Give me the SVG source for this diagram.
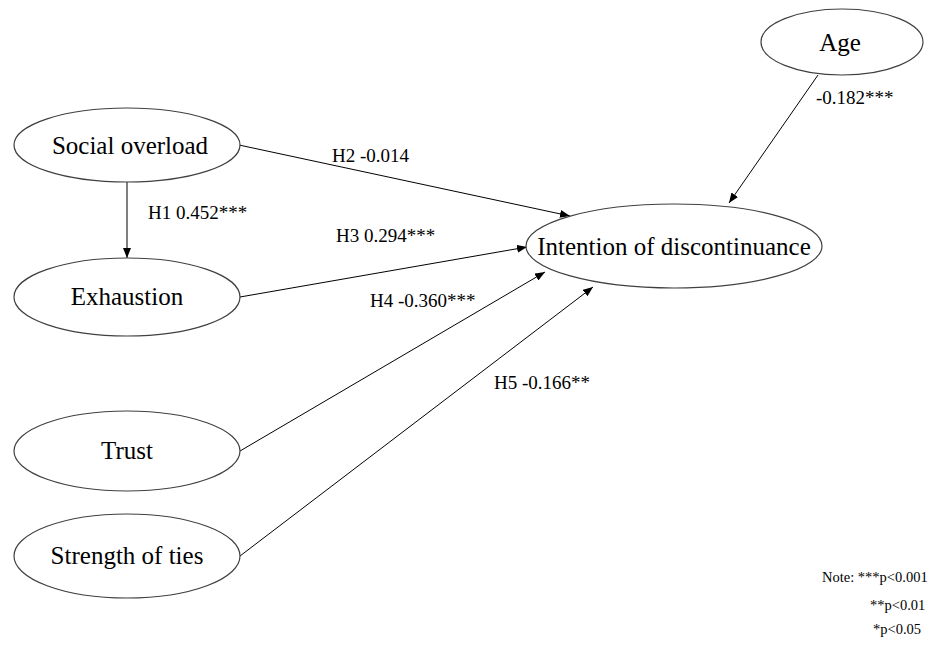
<svg xmlns="http://www.w3.org/2000/svg" width="932" height="646" viewBox="0 0 932 646">
<style>
.node ellipse{fill:#fff;stroke:#404040;stroke-width:1.2}
.node text{font-family:"Liberation Serif","Times New Roman",serif;font-size:25px;fill:#000;text-anchor:middle}
.edge line{stroke:#000;stroke-width:1;marker-end:url(#ah)}
.lbl{font-family:"Liberation Serif","Times New Roman",serif;font-size:19px;fill:#000}
.note{font-family:"Liberation Serif","Times New Roman",serif;font-size:14.5px;fill:#000}
</style>
<defs>
<marker id="ah" viewBox="0 0 10 8" refX="10" refY="4" markerWidth="10" markerHeight="8" markerUnits="userSpaceOnUse" orient="auto">
<path d="M0,0 L10,4 L0,8 Z" fill="#000"/>
</marker>
</defs>
<rect width="932" height="646" fill="#fff"/>
<g id="connectors" class="edge">
<line x1="127" y1="182" x2="127" y2="258"/>
<line x1="239" y1="145" x2="570" y2="216"/>
<line x1="240" y1="297" x2="527" y2="247"/>
<line x1="240" y1="451" x2="545" y2="272"/>
<line x1="240" y1="556" x2="593" y2="287"/>
<line x1="818" y1="75" x2="729" y2="203"/>
</g>
<g id="labels">
<text class="lbl" x="148" y="219">H1 0.452***</text>
<text class="lbl" x="332" y="162">H2 -0.014</text>
<text class="lbl" x="336" y="242">H3 0.294***</text>
<text class="lbl" x="370" y="307">H4 -0.360***</text>
<text class="lbl" x="494" y="389">H5 -0.166**</text>
<text class="lbl" x="816" y="104">-0.182***</text>
</g>
<g id="social-overload" class="node"><ellipse cx="127" cy="145" rx="113" ry="37"/><text x="130" y="154">Social overload</text></g>
<g id="exhaustion" class="node"><ellipse cx="127" cy="297" rx="113" ry="39"/><text x="127" y="305">Exhaustion</text></g>
<g id="trust" class="node"><ellipse cx="127" cy="451" rx="113" ry="40"/><text x="127" y="459">Trust</text></g>
<g id="strength-of-ties" class="node"><ellipse cx="127" cy="556" rx="113" ry="42"/><text x="127" y="564">Strength of ties</text></g>
<g id="intention" class="node"><ellipse cx="674" cy="246" rx="148" ry="42"/><text x="674" y="255">Intention of discontinuance</text></g>
<g id="age" class="node"><ellipse cx="842" cy="42" rx="81" ry="33"/><text x="840" y="51">Age</text></g>
<g id="note">
<text class="note" x="822" y="582">Note: ***p&lt;0.001</text>
<text class="note" x="870" y="610">**p&lt;0.01</text>
<text class="note" x="873" y="634">*p&lt;0.05</text>
</g>
</svg>
